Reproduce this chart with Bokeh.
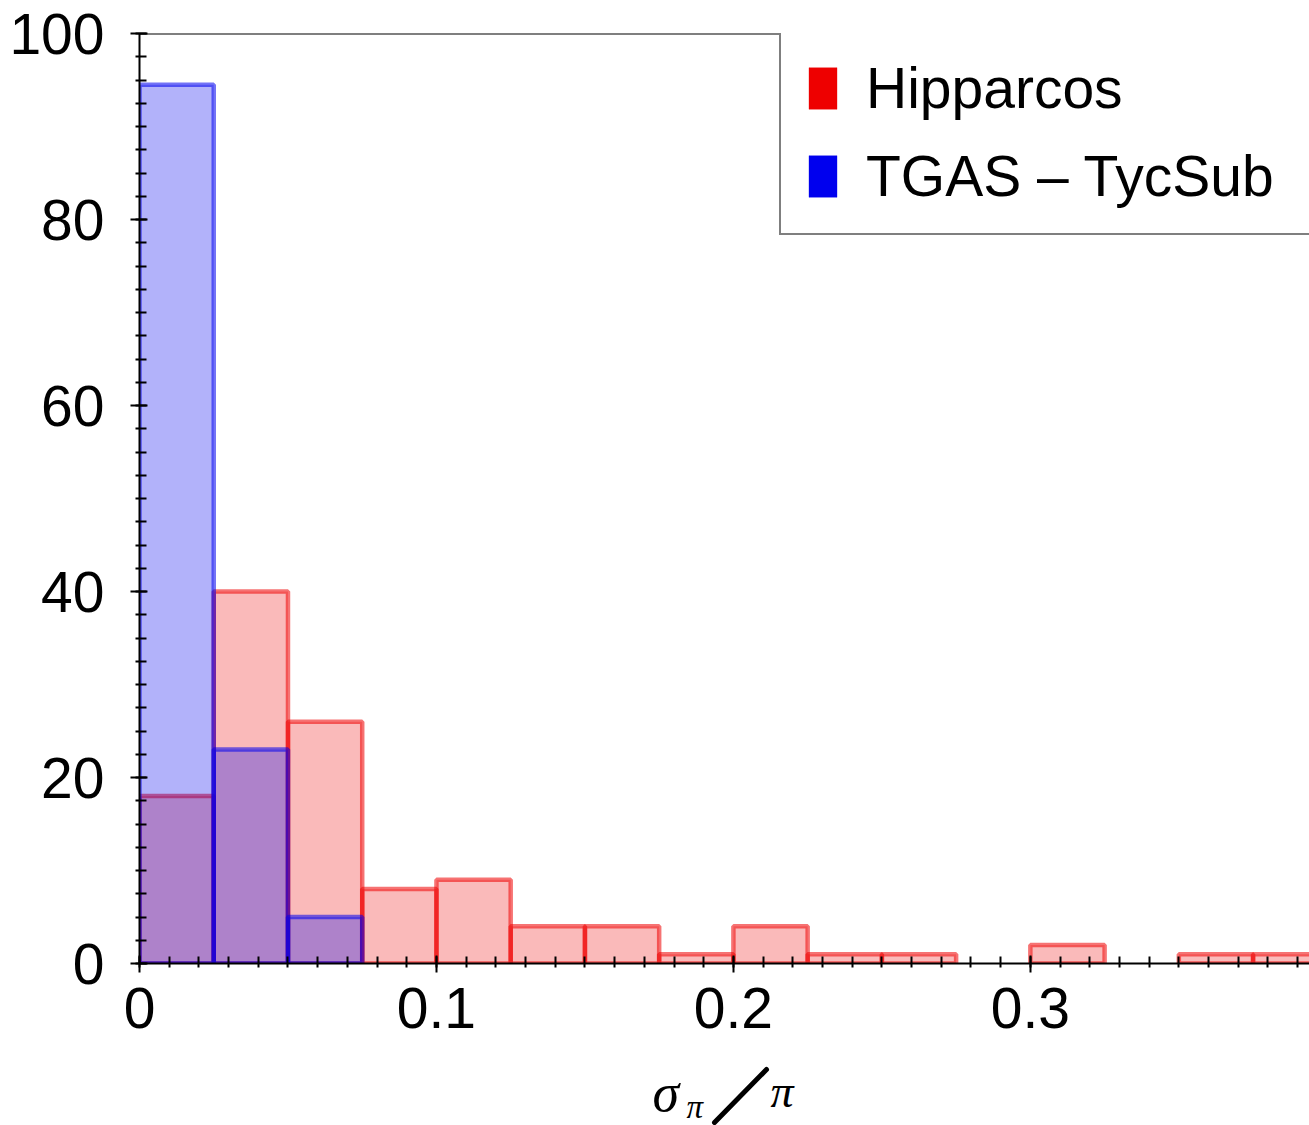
from bokeh.plotting import figure
from bokeh.layouts import column
from bokeh.models import (Range1d, FixedTicker, Legend, LegendItem, Span, ColumnDataSource)
from bokeh.core.properties import value
from bokeh.embed import file_html
from bokeh.resources import INLINE

# ---- data ----
hip_left = [0.0, 0.025, 0.05, 0.075, 0.1, 0.125, 0.15, 0.175, 0.2, 0.225, 0.25, 0.275, 0.3, 0.325, 0.35, 0.375]
hip_right = [0.025, 0.05, 0.075, 0.1, 0.125, 0.15, 0.175, 0.2, 0.225, 0.25, 0.275, 0.3, 0.325, 0.35, 0.375, 0.4]
hip_counts = [18, 40, 26, 8, 9, 4, 4, 1, 4, 1, 1, 0, 2, 0, 1, 1]

tgas_left = [0.0, 0.025, 0.05]
tgas_right = [0.025, 0.05, 0.075]
tgas_counts = [94.5, 23, 5]

x_major = [0, 0.1, 0.2, 0.3]
x_labels = ["0", "0.1", "0.2", "0.3"]
y_major = [0, 20, 40, 60, 80, 100]
y_labels = ["0", "20", "40", "60", "80", "100"]

RED = "#ee0000"
BLUE = "#0000ee"
FONT = "Liberation Sans"

p = figure(width=1309, height=1055, x_range=Range1d(0, 0.394), y_range=Range1d(0, 100),
           output_backend="svg", toolbar_location=None,
           min_border_left=139, min_border_right=0, min_border_top=33, min_border_bottom=92)
p.grid.visible = False
p.outline_line_color = None
p.background_fill_color = "white"
p.border_fill_color = "white"

# bars (skip empty bins)
hip_src = ColumnDataSource(dict(
    left=[l for l, c in zip(hip_left, hip_counts) if c > 0],
    right=[r for r, c in zip(hip_right, hip_counts) if c > 0],
    top=[c for c in hip_counts if c > 0]))
p.quad(left="left", right="right", top="top", bottom=0, source=hip_src,
       fill_color=RED, fill_alpha=0.27, line_color=RED, line_alpha=0.55, line_width=4.5)

tgas_src = ColumnDataSource(dict(left=tgas_left, right=tgas_right, top=tgas_counts))
p.quad(left="left", right="right", top="top", bottom=0, source=tgas_src,
       fill_color=BLUE, fill_alpha=0.3, line_color=BLUE, line_alpha=0.55, line_width=4.5)

# legend proxies (solid patches, not drawn in the plot)
leg_red = p.quad(left="left", right="right", top="top", bottom=0, source=hip_src,
                 fill_color=RED, fill_alpha=1, line_color=RED, line_alpha=0.35,
                 line_width=1, visible=False)
leg_blue = p.quad(left="left", right="right", top="top", bottom=0, source=tgas_src,
                  fill_color=BLUE, fill_alpha=1, line_color=BLUE, line_alpha=0.35,
                  line_width=1, visible=False)

# axes
xa = p.xaxis[0]
xa.ticker = FixedTicker(ticks=x_major, minor_ticks=[i * 0.01 for i in range(41)])
xa.major_label_overrides = {t: s for t, s in zip(x_major, x_labels)}
ya = p.yaxis[0]
ya.ticker = FixedTicker(ticks=y_major, minor_ticks=[i * 2.5 for i in range(41)])
ya.major_label_overrides = {t: s for t, s in zip(y_major, y_labels)}
for ax in (xa, ya):
    ax.axis_line_width = 2
    ax.axis_line_color = "black"
    ax.major_tick_line_width = 2
    ax.minor_tick_line_width = 2
    ax.major_tick_line_color = "black"
    ax.minor_tick_line_color = "black"
    ax.major_tick_in = 8
    ax.major_tick_out = 9
    ax.minor_tick_in = 7
    ax.minor_tick_out = 4
    ax.major_label_text_font = FONT
    ax.major_label_text_font_size = "57px"
    ax.major_label_text_color = "black"
xa.major_label_standoff = 15
ya.major_label_standoff = 26

# legend
legend = Legend(items=[LegendItem(label="Hipparcos", renderers=[leg_red]),
                       LegendItem(label="TGAS – TycSub", renderers=[leg_blue])],
                location=(640, 728), orientation="vertical",
                glyph_width=35, glyph_height=52, label_standoff=26,
                padding=24, spacing=22, margin=0, label_width=520,
                label_text_font=FONT, label_text_font_size="57px", label_text_color="black",
                border_line_color="black", border_line_width=2,
                background_fill_color="white", background_fill_alpha=1)
p.add_layout(legend)

# top frame line (drawn after the legend so it lies on top)
p.add_layout(Span(location=100, dimension="width", line_color="black", line_width=2))

# x-axis label  sigma_pi / pi  (drawn in a strip below the plot; x in canvas pixels,
# y measured up from the bottom of the page)
lab = figure(width=1309, height=70, x_range=Range1d(139, 1309), y_range=Range1d(0, 70),
             output_backend="svg", toolbar_location=None, min_border=0,
             min_border_left=139)
lab.axis.visible = False
lab.grid.visible = False
lab.outline_line_color = None
lab.background_fill_color = "white"
lab.border_fill_color = "white"
lab.text(x=[652], y=[33], text=["σ"], text_font=value("Liberation Serif"),
         text_font_style="italic", text_font_size="54px", text_baseline="middle",
         text_color="black")
lab.text(x=[686], y=[19], text=["π"], text_font=value("Liberation Serif"),
         text_font_style="italic", text_font_size="33px", text_baseline="middle",
         text_color="black")
# the large fraction slash, drawn as a stroke
lab.segment(x0=[714], y0=[3], x1=[766], y1=[56], line_color="black", line_width=5,
            line_cap="round")
lab.text(x=[770], y=[34], text=["π"], text_font=value("Liberation Serif"),
         text_font_style="italic", text_font_size="46px", text_baseline="middle",
         text_color="black")

layout = column(p, lab, spacing=0)
open("out.html", "w").write(file_html(layout, INLINE))
